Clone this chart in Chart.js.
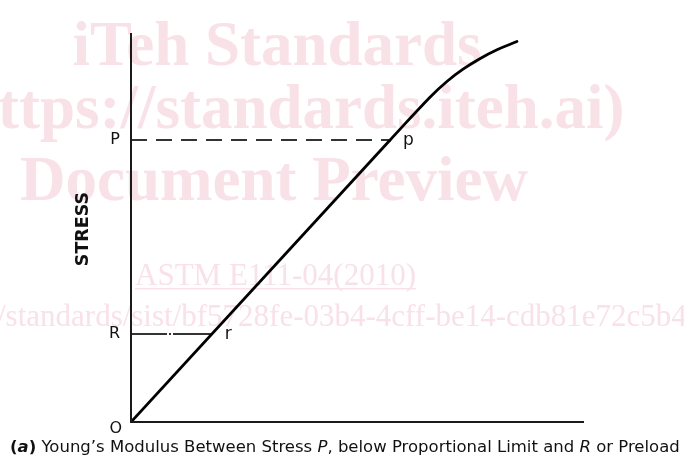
<!DOCTYPE html>
<html><head><meta charset="utf-8">
<script src="https://cdn.jsdelivr.net/npm/chart.js@4"></script>
<style>html,body{margin:0;padding:0;background:#fff;} canvas{display:block;}</style>
</head><body>
<canvas id="c" width="684" height="459"></canvas>
<script>
// ---- data (arbitrary strain / stress units, axis range 0..100) ----
const linearStrain = [0, 57.2];
const linearStress = [0, 72.5];
const curveStrain = [57.2, 66.0, 69.8, 73.3, 77.0, 80.8, 85.2];
const curveStress = [72.5, 83.5, 87.6, 90.7, 93.4, 95.7, 97.8];
const levelNames = ['P', 'R'];
const levelStress = [72.5, 22.6];
const levelStrain = [57.2, 17.8];
const pointNames = ['p', 'r'];
const originLabel = 'O';
const axisTitle = 'STRESS';
const captionText = ['(', 'a', ')', ' Young\u2019s Modulus Between Stress ', 'P', ', below Proportional Limit and ', 'R', ' or Preload'];
const captionStyle = ['bold', 'italic bold', 'bold', '', 'italic', '', 'italic', ''];
const watermarkText = ['iTeh Standards', '(https://standards.iteh.ai)', 'Document Preview', 'ASTM E111-04(2010)', '/standards/sist/bf5728fe-03b4-4cff-be14-cdb81e72c5b4'];

const toPts = (xs, ys) => xs.map((x, i) => ({x: x, y: ys[i]}));

const watermarkPlugin = {
  id: 'wm',
  beforeDraw(chart) {
    const ctx = chart.ctx;
    ctx.save();
    ctx.fillStyle = '#f9e1e8';
    ctx.textBaseline = 'alphabetic';
    ctx.font = 'bold 63px "Liberation Serif"';
    ctx.textAlign = 'center';
    ctx.fillText(watermarkText[0], 277, 65);
    ctx.textAlign = 'left';
    ctx.fillText(watermarkText[1], -58, 128);
    ctx.fillText(watermarkText[2], 20, 200);
    ctx.font = '31px "Liberation Serif"';
    ctx.fillText(watermarkText[3], 135, 285);
    const w = ctx.measureText(watermarkText[3]).width;
    ctx.fillRect(135, 288, w, 1.5);
    ctx.fillText(watermarkText[4], -3, 326);
    ctx.restore();
  }
};

const annotPlugin = {
  id: 'annot',
  afterDatasetsDraw(chart) {
    const ctx = chart.ctx;
    const xs = chart.scales.x, ys = chart.scales.y;
    const x0 = xs.getPixelForValue(0), y0 = ys.getPixelForValue(0);
    ctx.save();
    // axes
    ctx.strokeStyle = '#1a1a1a';
    ctx.lineWidth = 2;
    ctx.beginPath();
    ctx.moveTo(x0, ys.getPixelForValue(100));
    ctx.lineTo(x0, y0);
    ctx.lineTo(xs.getPixelForValue(100), y0);
    ctx.stroke();
    // labels
    ctx.fillStyle = '#111';
    ctx.font = '16px "DejaVu Sans"';
    ctx.textAlign = 'right';
    ctx.textBaseline = 'middle';
    levelNames.forEach((n, i) => ctx.fillText(n, x0 - 11, ys.getPixelForValue(levelStress[i])));
    ctx.fillText(originLabel, x0 - 9, y0 + 7);
    ctx.textAlign = 'left';
    ctx.textBaseline = 'alphabetic';
    ctx.font = '17px "DejaVu Sans"';
    pointNames.forEach((n, i) => ctx.fillText(n, xs.getPixelForValue(levelStrain[i]) + 13, ys.getPixelForValue(levelStress[i]) + 5));
    // axis title
    ctx.font = 'bold 17.5px "DejaVu Sans"';
    ctx.save();
    ctx.translate(83, 229);
    ctx.rotate(-Math.PI / 2);
    ctx.textAlign = 'center';
    ctx.textBaseline = 'middle';
    ctx.fillText(axisTitle, 0, 0);
    ctx.restore();
    // caption
    const base = 15;
    let total = 0;
    captionText.forEach((t, i) => { ctx.font = captionStyle[i] + ' ' + base + 'px "DejaVu Sans"'; total += ctx.measureText(t).width; });
    const size = base * 670 / total;
    let cx = 10;
    ctx.textAlign = 'left';
    captionText.forEach((t, i) => {
      ctx.font = captionStyle[i] + ' ' + size + 'px "DejaVu Sans"';
      ctx.fillText(t, cx, 452);
      cx += ctx.measureText(t).width;
    });
    ctx.restore();
  }
};

new Chart(document.getElementById('c'), {
  type: 'scatter',
  data: {
    datasets: [
      { data: toPts(linearStrain, linearStress), showLine: true, borderColor: '#000', borderWidth: 2.8, pointRadius: 0, tension: 0 },
      { data: toPts(curveStrain, curveStress), showLine: true, borderColor: '#000', borderWidth: 2.8, pointRadius: 0, tension: 0.4, borderCapStyle: 'round' },
      { data: toPts([0, levelStrain[0]], [levelStress[0], levelStress[0]]), showLine: true, borderColor: '#333', borderWidth: 2, borderDash: [16, 9], pointRadius: 0 },
      { data: toPts([0, levelStrain[1]], [levelStress[1], levelStress[1]]), showLine: true, borderColor: '#333', borderWidth: 2, borderDash: [36, 2, 2, 2, 100], pointRadius: 0 }
    ]
  },
  options: {
    responsive: false,
    animation: false,
    devicePixelRatio: 1,
    layout: { padding: { left: 131, right: 100, top: 33, bottom: 37 } },
    scales: {
      x: { type: 'linear', min: 0, max: 100, display: false },
      y: { type: 'linear', min: 0, max: 100, display: false }
    },
    plugins: { legend: { display: false }, tooltip: { enabled: false } }
  },
  plugins: [watermarkPlugin, annotPlugin]
});
</script>
</body></html>
